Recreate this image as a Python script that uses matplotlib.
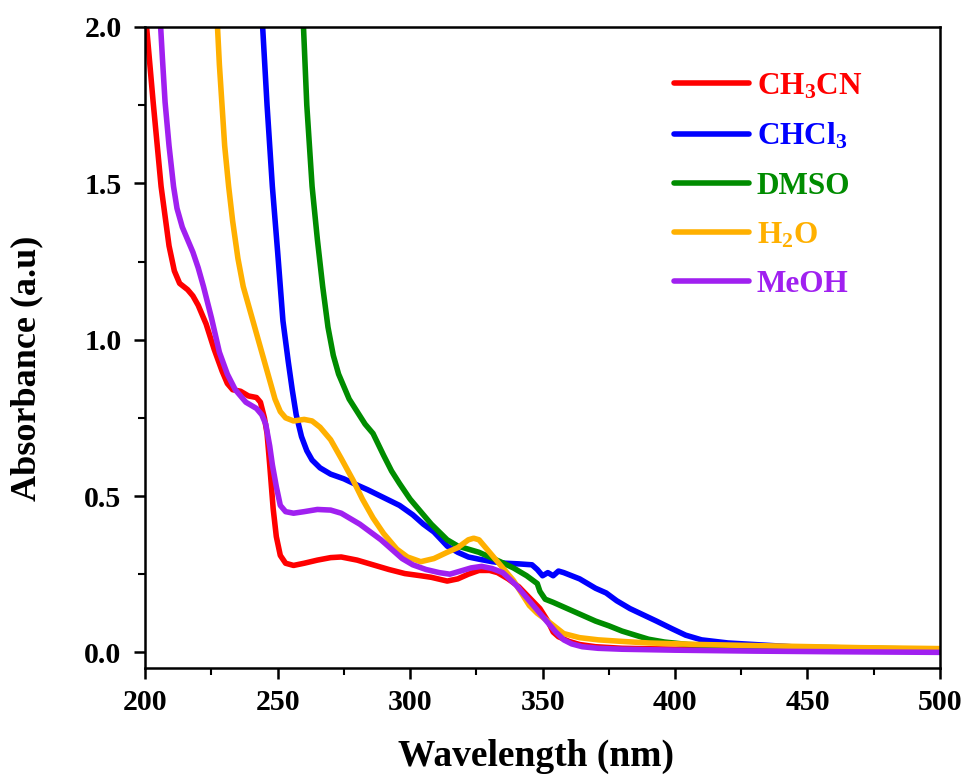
import matplotlib
matplotlib.use("Agg")
import matplotlib.pyplot as plt
from matplotlib.ticker import MultipleLocator, FormatStrFormatter

plt.rcParams['font.family'] = ['Liberation Serif', 'DejaVu Serif']
plt.rcParams['font.weight'] = 'bold'
plt.rcParams['mathtext.fontset'] = 'custom'
plt.rcParams['mathtext.rm'] = 'Liberation Serif:bold'
plt.rcParams['mathtext.bf'] = 'Liberation Serif:bold'
plt.rcParams['mathtext.default'] = 'bf'

# CH3CN
wl_ch3cn = [200, 203, 206, 209, 211, 213, 216, 218, 220, 223, 226, 229, 231, 233, 236, 239, 242, 243.5,
            245, 246, 247, 248.3, 249.5, 251, 253, 256, 260, 265, 270, 274, 280, 286, 292, 298, 304, 308,
            314, 318, 322, 326, 330, 333, 337, 341, 345, 349, 352, 354, 356, 360, 364, 370, 380, 400,
            430, 460, 500]
ab_ch3cn = [2.05, 1.76, 1.49, 1.30, 1.22, 1.18, 1.16, 1.14, 1.11, 1.05, 0.97, 0.90, 0.86, 0.84, 0.835,
            0.82, 0.815, 0.80, 0.75, 0.70, 0.60, 0.46, 0.37, 0.31, 0.285, 0.278, 0.285, 0.295, 0.303,
            0.305, 0.295, 0.28, 0.265, 0.252, 0.245, 0.24, 0.228, 0.235, 0.25, 0.262, 0.262, 0.255,
            0.235, 0.21, 0.175, 0.14, 0.10, 0.065, 0.05, 0.035, 0.025, 0.018, 0.013, 0.010, 0.008,
            0.006, 0.004]

# CHCl3
wl_chcl3 = [244, 246, 248, 250, 252, 254, 255.5, 257, 259, 261, 263, 266, 270, 275, 280, 284, 290, 296,
            301, 305, 309, 314, 318, 322, 326, 331, 336, 341, 346, 348, 350, 352, 354, 356, 358, 361,
            364, 367, 370, 374, 378, 383, 388, 393, 399, 404, 410, 420, 430, 440, 455, 470, 485, 500]
ab_chcl3 = [2.05, 1.75, 1.49, 1.28, 1.06, 0.93, 0.84, 0.76, 0.69, 0.645, 0.615, 0.59, 0.57, 0.555,
            0.535, 0.52, 0.495, 0.47, 0.44, 0.41, 0.385, 0.34, 0.32, 0.305, 0.298, 0.29, 0.285, 0.283,
            0.28, 0.265, 0.245, 0.255, 0.245, 0.26, 0.255, 0.245, 0.235, 0.22, 0.205, 0.19, 0.165,
            0.14, 0.12, 0.10, 0.075, 0.055, 0.04, 0.03, 0.025, 0.02, 0.012, 0.008, 0.006, 0.005]

# DMSO
wl_dmso = [259.5, 261, 263, 265, 267, 269, 271, 273, 275, 277, 280, 283, 286, 290, 293, 296, 300, 304,
           308, 311, 314, 318, 322, 326, 330, 334, 339, 344, 348, 349, 351, 354, 358, 362, 366, 370,
           375, 380, 385, 390, 396, 405, 420, 440, 460, 480, 500]
ab_dmso = [2.05, 1.75, 1.49, 1.32, 1.17, 1.04, 0.95, 0.89, 0.85, 0.81, 0.77, 0.73, 0.70, 0.63, 0.58,
           0.54, 0.49, 0.45, 0.41, 0.385, 0.36, 0.34, 0.33, 0.32, 0.305, 0.29, 0.27, 0.245, 0.22,
           0.195, 0.17, 0.16, 0.145, 0.13, 0.115, 0.10, 0.085, 0.068, 0.055, 0.042, 0.033, 0.025,
           0.02, 0.017, 0.015, 0.012, 0.01]

# H2O
wl_h2o = [227, 228, 230, 231.5, 233, 235, 237, 239, 241, 243, 245, 247, 249, 251, 253, 256, 260, 263,
          266, 270, 274, 278.5, 282, 286, 290, 295, 299, 304, 309, 314, 318, 322, 324, 326, 330, 334,
          339, 345, 348, 352, 355, 358, 364, 371, 380, 390, 410, 440, 470, 500]
ab_h2o = [2.05, 1.88, 1.62, 1.49, 1.38, 1.26, 1.17, 1.11, 1.05, 0.99, 0.93, 0.87, 0.81, 0.77, 0.75,
          0.74, 0.745, 0.74, 0.72, 0.68, 0.62, 0.55, 0.49, 0.43, 0.38, 0.33, 0.305, 0.29, 0.30, 0.32,
          0.335, 0.36, 0.365, 0.36, 0.32, 0.28, 0.23, 0.15, 0.125, 0.10, 0.08, 0.06, 0.047, 0.04,
          0.035, 0.03, 0.025, 0.02, 0.015, 0.012]

# MeOH
wl_meoh = [205.5, 206.5, 207.5, 209, 210.7, 212, 214, 216, 218, 220, 222, 225, 228, 231, 234, 238, 242,
           244, 245.5, 247, 248, 249.5, 251, 253, 256, 260, 265, 270, 274, 277, 281, 285, 289, 293,
           297, 301, 306, 311, 315, 319, 323, 327, 331, 335, 340, 345, 349, 352, 355, 358, 361, 365,
           371, 380, 400, 430, 460, 500]
ab_meoh = [2.05, 1.9, 1.76, 1.62, 1.49, 1.42, 1.36, 1.32, 1.28, 1.23, 1.17, 1.07, 0.96, 0.89, 0.84,
           0.80, 0.78, 0.76, 0.73, 0.66, 0.60, 0.53, 0.47, 0.45, 0.445, 0.45, 0.457, 0.455, 0.445,
           0.43, 0.41, 0.385, 0.36, 0.33, 0.30, 0.28, 0.265, 0.255, 0.25, 0.26, 0.27, 0.275, 0.268,
           0.255, 0.215, 0.165, 0.125, 0.095, 0.065, 0.04, 0.027, 0.018, 0.013, 0.01, 0.007, 0.004,
           0.002, 0.0]

series = [
    (wl_ch3cn, ab_ch3cn, r'CH$_3$CN', '#FF0000'),
    (wl_chcl3, ab_chcl3, r'CHCl$_3$', '#0000FF'),
    (wl_dmso, ab_dmso, 'DMSO', '#008C00'),
    (wl_h2o, ab_h2o, r'H$_2$O', '#FFB000'),
    (wl_meoh, ab_meoh, 'MeOH', '#A020F0'),
]

fig = plt.figure(figsize=(9.68, 7.80), dpi=100)
ax = fig.add_axes([0.150, 0.1436, 0.821, 0.8218])

for x, y, lab, col in series:
    ax.plot(x, y, color=col, lw=4, label=lab, solid_capstyle='round', solid_joinstyle='round')

ax.set_xlim(200, 500)
ax.set_ylim(-0.05, 2.0)
ax.xaxis.set_major_locator(MultipleLocator(50))
ax.xaxis.set_minor_locator(MultipleLocator(25))
ax.yaxis.set_major_locator(MultipleLocator(0.5))
ax.yaxis.set_minor_locator(MultipleLocator(0.25))
ax.yaxis.set_major_formatter(FormatStrFormatter('%.1f'))
ax.tick_params(which='major', direction='out', length=8, width=1.8, labelsize=21.5)
ax.tick_params(axis='x', which='major', pad=7)
ax.tick_params(axis='y', which='major', pad=9)
ax.tick_params(which='minor', direction='out', length=5, width=1.5)
for lbl in ax.get_xticklabels() + ax.get_yticklabels():
    lbl.set_fontweight('bold')
for sp in ax.spines.values():
    sp.set_linewidth(1.8)

ax.set_xlabel('Wavelength (nm)', fontsize=27, fontweight='bold')
ax.set_ylabel('Absorbance (a.u)', fontsize=26, fontweight='bold')
ax.xaxis.set_label_coords(0.492, -0.11)
ax.yaxis.set_label_coords(-0.128, 0.468)

leg = ax.legend(loc='upper left', bbox_to_anchor=(0.665, 0.93), frameon=False,
                fontsize=22.5, handlelength=2.4, handletextpad=0.25, labelspacing=0.64,
                borderpad=0, borderaxespad=0, labelcolor='linecolor')
for t in leg.get_texts():
    t.set_fontweight('bold')

fig.savefig('out.png', dpi=100)
